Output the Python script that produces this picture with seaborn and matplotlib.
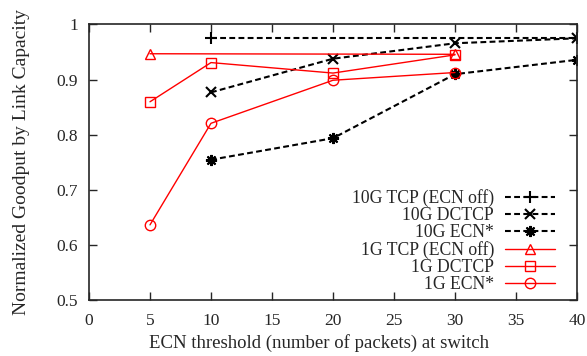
#!/usr/bin/env python3

import matplotlib
matplotlib.use("Agg")
import matplotlib.pyplot as plt
import pandas as pd
import seaborn as sns

# ECN threshold values (packets)
x_10g = [10, 20, 30, 40]
x_1g = [5, 10, 20, 30]
x_tcp_10g = [10, 40]
x_tcp_1g = [5, 30]

tcp_10g = [0.975, 0.975]
dctcp_10g = [0.877, 0.938, 0.966, 0.975]
ecn_10g = [0.755, 0.794, 0.910, 0.936]

tcp_1g = [0.947, 0.946]
dctcp_1g = [0.860, 0.931, 0.912, 0.945]
ecn_1g = [0.637, 0.821, 0.899, 0.913]

labels = ["10G TCP (ECN off)", "10G DCTCP", "10G ECN*",
          "1G TCP (ECN off)", "1G DCTCP", "1G ECN*"]

x_ticks = [0, 5, 10, 15, 20, 25, 30, 35, 40]
y_ticks = [0.5, 0.6, 0.7, 0.8, 0.9, 1.0]
y_ticklabels = ["0.5", "0.6", "0.7", "0.8", "0.9", "1"]


def build_frame():
    rows = []
    for lab, xs, ys in zip(labels,
                           [x_tcp_10g, x_10g, x_10g, x_tcp_1g, x_1g, x_1g],
                           [tcp_10g, dctcp_10g, ecn_10g, tcp_1g, dctcp_1g, ecn_1g]):
        for xv, yv in zip(xs, ys):
            rows.append({"series": lab, "threshold": xv, "goodput": yv})
    return pd.DataFrame(rows)


def plot_goodput(df, output_path):
    sns.set_style("ticks")
    plt.rcParams["font.family"] = ["Liberation Serif", "DejaVu Serif"]
    plt.rcParams["xtick.direction"] = "in"
    plt.rcParams["ytick.direction"] = "in"

    fig = plt.figure(figsize=(5.87, 3.56), dpi=100)
    ax = fig.add_axes([0.1516, 0.1559, 0.8313, 0.7753])

    dash = (0, (2.8, 1.6))
    styles = {
        "10G TCP (ECN off)": dict(color="black", ls=dash, lw=1.5, marker="+", ms=8, mew=1.5, mfc="black"),
        "10G DCTCP": dict(color="black", ls=dash, lw=1.5, marker="x", ms=7, mew=1.5, mfc="black"),
        "10G ECN*": dict(color="black", ls=dash, lw=1.5, marker=(8, 2, 0), ms=8, mew=1.5, mfc="black"),
        "1G TCP (ECN off)": dict(color="red", ls="-", lw=1.0, marker="^", ms=7, mew=1.0, mfc="none"),
        "1G DCTCP": dict(color="red", ls="-", lw=1.0, marker="s", ms=7, mew=1.0, mfc="none"),
        "1G ECN*": dict(color="red", ls="-", lw=1.0, marker="o", ms=7.5, mew=1.0, mfc="none"),
    }

    for lab in labels:
        st = styles[lab]
        sub = df[df["series"] == lab]
        sns.lineplot(data=sub, x="threshold", y="goodput", ax=ax, label=lab,
                     color=st["color"], linestyle=st["ls"], linewidth=st["lw"],
                     marker=st["marker"], markersize=st["ms"], markeredgewidth=st["mew"],
                     markerfacecolor=st["mfc"], markeredgecolor=st["color"])

    ax.set_xlim(0, 40)
    ax.set_ylim(0.5, 1.0)
    ax.set_xticks(x_ticks)
    ax.set_yticks(y_ticks)
    ax.set_yticklabels(y_ticklabels)
    ax.tick_params(top=True, right=True, length=6, width=1, labelsize=12.5)
    ax.tick_params(axis="x", pad=9)
    ax.tick_params(axis="y", pad=8)
    for sp in ax.spines.values():
        sp.set_linewidth(1.2)
        sp.set_visible(True)
    ax.set_xlabel("ECN threshold (number of packets) at switch", fontsize=13.5, labelpad=4)
    ax.xaxis.label.set_x(0.472)
    ax.set_ylabel("Normalized Goodput by Link Capacity", fontsize=14, labelpad=19)

    ax.legend(loc="lower right", frameon=False, markerfirst=False, fontsize=12.7,
              handlelength=2.85, labelspacing=0.0, handletextpad=0.6,
              borderaxespad=0, borderpad=0,
              bbox_to_anchor=(0.955, 0.028))
    fig.savefig(output_path, dpi=100)
    plt.close(fig)


if __name__ == "__main__":
    plot_goodput(build_frame(), "out.png")
